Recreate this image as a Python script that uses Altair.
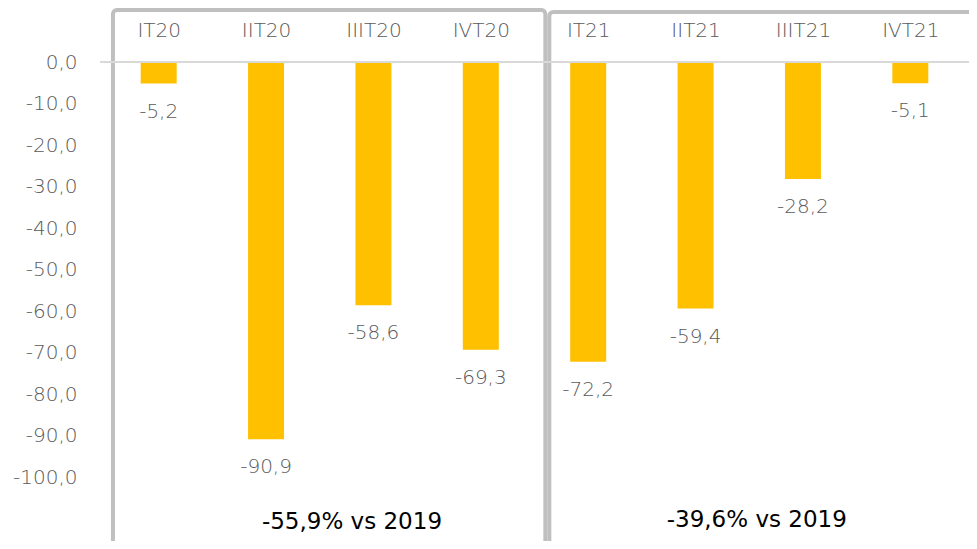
import altair as alt
import pandas as pd

# ---- data ----
categories = ["IT20", "IIT20", "IIIT20", "IVT20", "IT21", "IIT21", "IIIT21", "IVT21"]
values = [-5.2, -90.9, -58.6, -69.3, -72.2, -59.4, -28.2, -5.1]
y_ticks = [0, -10, -20, -30, -40, -50, -60, -70, -80, -90, -100]

ann_text = ["-55,9% vs 2019", "-39,6% vs 2019"]
ann_x = [1.80, 5.57]
ann_y = [-110.8, -110.3]

# group frames (2020 / 2021), in data units
box_x0 = [-0.426, 3.638]
box_x1 = [3.601, 8.6]
box_y0 = [12.53, 12.05]
box_y1 = [-130, -130]

FONT = "DejaVu Sans"
GREY = "#595959"
W_LIGHT = 300

df = pd.DataFrame({
    "idx": list(range(len(categories))),
    "cat": categories,
    "value": values,
    "label": [f"{v:.1f}".replace(".", ",") for v in values],
})
ann = pd.DataFrame({"t": ann_text, "x": ann_x, "y": ann_y})
boxes = pd.DataFrame({"x0": box_x0, "x1": box_x1, "y0": box_y0, "y1": box_y1})

label_expr_x = "[" + ",".join(f"'{c}'" for c in categories) + "][datum.value]"

x_scale = alt.Scale(domain=[-0.5, 7.5], nice=False, zero=False)
# plot area: page y 8 .. 541 ; zero at page y 62 ; 4.151 px per unit
y_scale = alt.Scale(domain=[-115.40, 13.01], nice=False, zero=False)

x_enc = alt.X(
    "idx:Q",
    scale=x_scale,
    axis=alt.Axis(
        orient="top", values=list(range(len(categories))), labelExpr=label_expr_x,
        domain=False, ticks=False, tickSize=0, grid=False, offset=-34, labelPadding=2,
        labelFontSize=20, labelColor=GREY, labelFont=FONT, labelFontWeight=W_LIGHT, title=None,
    ),
)
y_enc = alt.Y(
    "value:Q",
    scale=y_scale,
    axis=alt.Axis(
        values=y_ticks,
        labelExpr="(datum.value < 0 ? '-' : '') + replace(format(abs(datum.value), '.1f'), '.', ',')",
        domain=False, ticks=False, tickSize=0, grid=False, labelPadding=23,
        labelFontSize=20, labelColor=GREY, labelFont=FONT, labelFontWeight=W_LIGHT, title=None,
    ),
)

frames = alt.Chart(boxes).mark_rect(
    fillOpacity=0, stroke="#BFBFBF", strokeWidth=4, cornerRadius=4, clip=False
).encode(x="x0:Q", x2="x1", y="y0:Q", y2="y1")

zero = alt.Chart(pd.DataFrame({"v": [0]})).mark_rule(color="#D9D9D9", strokeWidth=2).encode(y="v:Q")

bars = alt.Chart(df).mark_bar(size=36, color="#FFC000").encode(x=x_enc, y=y_enc, y2=alt.datum(0))

labels = alt.Chart(df).mark_text(
    dy=28, baseline="middle", align="center", fontSize=20, color=GREY, font=FONT, fontWeight=W_LIGHT
).encode(x="idx:Q", y="value:Q", text="label:N")

notes = alt.Chart(ann).mark_text(
    baseline="middle", align="center", fontSize=23, color="#000000", font=FONT, fontWeight="normal"
).encode(x="x:Q", y="y:Q", text="t:N")

chart = alt.layer(bars, frames, zero, labels, notes).properties(
    width=869, height=533,
    autosize=alt.AutoSizeParams(type="none"),
    padding={"left": 92, "top": 0, "right": 0, "bottom": 0},
).configure_view(stroke=None)

chart.save("out.html", embed_options={"renderer": "svg", "actions": False})
